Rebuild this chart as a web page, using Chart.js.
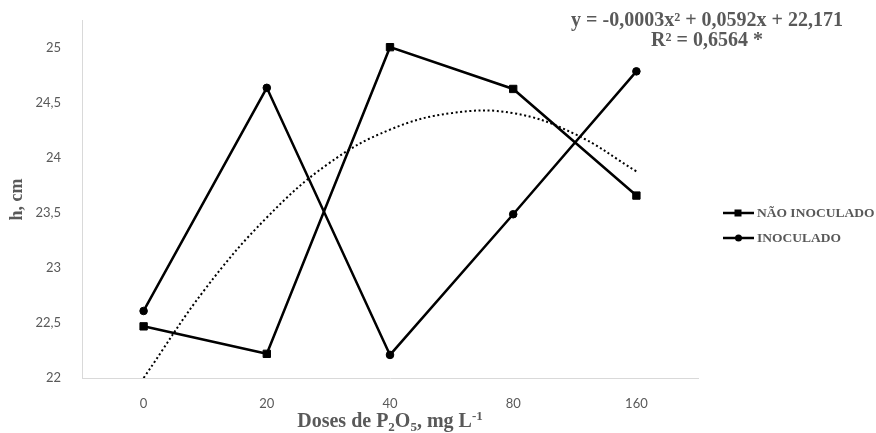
<!DOCTYPE html>
<html>
<head>
<meta charset="utf-8">
<script src="https://cdn.jsdelivr.net/npm/chart.js@4.4.1/dist/chart.umd.min.js"></script>
<style>
  html, body { margin: 0; padding: 0; background: #fff; }
  #wrap { width: 876px; height: 433px; position: relative; }
</style>
</head>
<body>
<div id="wrap"><canvas id="chart"></canvas></div>
<script>
// doses (categories)
const doses = ['0', '20', '40', '80', '160'];
const naoInoculado = [22.47, 22.22, 25.01, 24.63, 23.66];
const inoculado = [22.61, 24.64, 22.21, 23.49, 24.79];

// dotted polynomial trend at half-category steps
const trendPos = [0, 0.5, 1, 1.5, 2, 2.5, 3, 3.5, 4];
const trendVals = [22.0, 22.81, 23.46, 23.95, 24.26, 24.41, 24.41, 24.22, 23.88];

const yTicks = [22, 22.5, 23, 23.5, 24, 24.5, 25];
const legendNames = ['NÃO INOCULADO', 'INOCULADO'];
const eqLines = ['y = -0,0003x² + 0,0592x + 22,171', 'R² = 0,6564 *'];

const grey = '#595959';
const axisColor = '#d9d9d9';
const serif = '"Liberation Serif", "Times New Roman", serif';

// draws the legend, regression text and x-axis title
const extras = {
    id: 'extras',
    afterDraw(chart) {
        const ctx = chart.ctx;
        const area = chart.chartArea;
        ctx.save();

        // equation
        ctx.fillStyle = grey;
        ctx.font = 'bold 20px ' + serif;
        ctx.textAlign = 'center';
        ctx.textBaseline = 'alphabetic';
        ctx.fillText(eqLines[0], 707, 26);
        ctx.fillText(eqLines[1], 707, 46);

        // legend
        const styles = ['rect', 'circle'];
        [0, 1].forEach(i => {
            const y = 213 + i * 25;
            ctx.strokeStyle = '#000';
            ctx.lineWidth = 2.5;
            ctx.beginPath();
            ctx.moveTo(723, y);
            ctx.lineTo(754, y);
            ctx.stroke();
            ctx.fillStyle = '#000';
            if (styles[i] === 'rect') {
                ctx.fillRect(734.5, y - 3.5, 7, 7);
            } else {
                ctx.beginPath();
                ctx.arc(738.5, y, 3.5, 0, Math.PI * 2);
                ctx.fill();
            }
            ctx.fillStyle = grey;
            ctx.font = 'bold 13.5px ' + serif;
            ctx.textAlign = 'left';
            ctx.textBaseline = 'middle';
            ctx.fillText(legendNames[i], 757, y + 1);
        });

        // x-axis title with sub/superscripts
        const parts = [
            ['Doses de P', 0], ['2', 1], ['O', 0], ['5', 1], [', mg L', 0], ['-1', -1]
        ];
        const big = 'bold 20px ' + serif;
        const small = 'bold 13px ' + serif;
        let total = 0;
        parts.forEach(p => {
            ctx.font = p[1] === 0 ? big : small;
            total += ctx.measureText(p[0]).width;
        });
        let x = (area.left + area.right) / 2 - total / 2;
        const base = 427;
        ctx.textAlign = 'left';
        ctx.textBaseline = 'alphabetic';
        ctx.fillStyle = grey;
        parts.forEach(p => {
            ctx.font = p[1] === 0 ? big : small;
            const dy = p[1] === 1 ? 4 : (p[1] === -1 ? -7 : 0);
            ctx.fillText(p[0], x, base + dy);
            x += ctx.measureText(p[0]).width;
        });

        ctx.restore();
    }
};

new Chart(document.getElementById('chart'), {
    type: 'line',
    data: {
        labels: doses,
        datasets: [{
            label: legendNames[0],
            data: naoInoculado,
            borderColor: '#000',
            backgroundColor: '#000',
            borderWidth: 2.5,
            pointStyle: 'rect',
            pointRadius: 5.2,
            pointBorderWidth: 1,
            tension: 0
        }, {
            label: legendNames[1],
            data: inoculado,
            borderColor: '#000',
            backgroundColor: '#000',
            borderWidth: 2.5,
            pointStyle: 'circle',
            pointRadius: 3.8,
            pointBorderWidth: 1,
            tension: 0
        }, {
            label: 'trend',
            xAxisID: 'xt',
            data: trendPos.map((p, i) => ({ x: p, y: trendVals[i] })),
            borderColor: '#000',
            borderWidth: 2,
            borderDash: [2, 2.6],
            pointRadius: 0,
            tension: 0.4
        }]
    },
    options: {
        responsive: true,
        maintainAspectRatio: false,
        animation: false,
        layout: { padding: { top: 14, right: 178, left: 0, bottom: 0 } },
        scales: {
            x: {
                offset: true,
                grid: { display: false },
                border: { color: axisColor, width: 1 },
                ticks: { color: grey, font: { family: 'Lato', size: 13 }, padding: 10 },
                afterFit: s => { s.height = 55; }
            },
            xt: {
                type: 'linear',
                display: false,
                min: -0.5,
                max: 4.5
            },
            y: {
                min: 22,
                max: 25.25,
                grid: { display: false },
                border: { color: axisColor, width: 1 },
                afterBuildTicks: s => { s.ticks = yTicks.map(v => ({ value: v })); },
                ticks: {
                    color: grey,
                    font: { family: 'Lato', size: 13 },
                    padding: 13,
                    callback: v => String(v).replace('.', ',')
                },
                title: {
                    display: true,
                    text: 'h, cm',
                    color: grey,
                    font: { family: serif, size: 18, weight: 'bold' },
                    padding: { top: 7, bottom: 0 }
                },
                afterFit: s => { s.width = 82; }
            }
        },
        plugins: {
            legend: { display: false },
            tooltip: { enabled: false }
        }
    },
    plugins: [extras]
});
</script>
</body>
</html>
